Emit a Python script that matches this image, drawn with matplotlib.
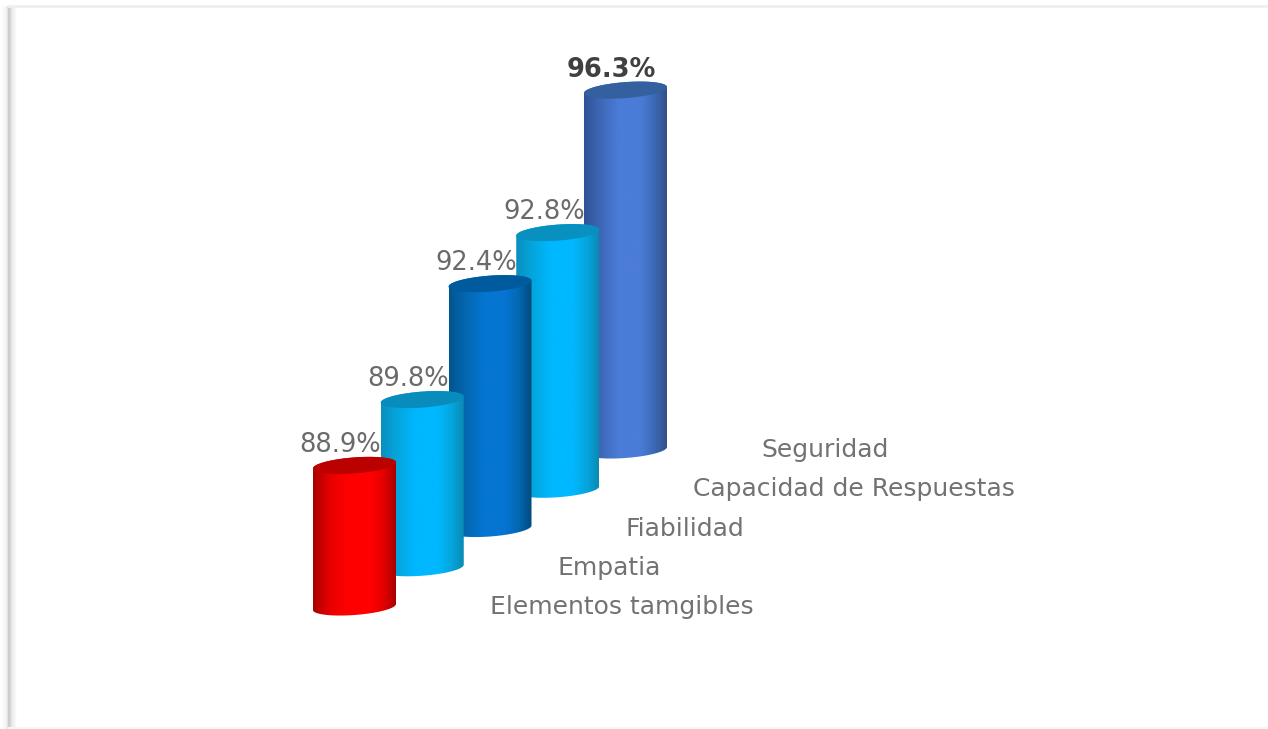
import numpy as np
import matplotlib
matplotlib.use("Agg")
import matplotlib.pyplot as plt
from matplotlib.colors import LinearSegmentedColormap
from matplotlib.patches import PathPatch, Polygon
from matplotlib.path import Path

categories = ["Elementos tamgibles", "Empatia", "Fiabilidad", "Capacidad de Respuestas", "Seguridad"]
values = [88.9, 89.8, 92.4, 92.8, 96.3]
value_labels = ["88.9%", "89.8%", "92.4%", "92.8%", "96.3%"]

edge_dark = ["#a80000", "#0a8fbe", "#00568f", "#0a8fbe", "#2f5396"]
edge_mid = ["#e60000", "#04a6dd", "#0467b0", "#04a6dd", "#3d68b6"]
centre = ["#ff0000", "#00b8ff", "#0575d2", "#00b8ff", "#4a7cd8"]
edge_right = ["#a80000", "#0a8ab5", "#004a7c", "#0a8ab5", "#31508c"]
lid = ["#bb0000", "#088cbc", "#005a9e", "#0890c0", "#34609f"]

W, H = 1268, 729
PX_PER_UNIT = 29.5
BASE_VALUE = 84.1
DEPTH_UNITS = 39.25 / PX_PER_UNIT
X0, X_STEP = 354.5, 67.75
HALF_W, LID_H, TILT = 41.5, 8.0, 3.0
BASE_PX = 607.0

fig = plt.figure(figsize=(W / 100, H / 100), dpi=100, facecolor="white")
ax = fig.add_axes([0, 0, 1, 1])
y_low = BASE_VALUE - (H - BASE_PX) / PX_PER_UNIT
y_high = y_low + H / PX_PER_UNIT


def px(dy):
    return dy / PX_PER_UNIT


def arc(cx, cy, t):
    return np.column_stack([cx + HALF_W * np.cos(t),
                            cy + px(LID_H * np.sin(t) + TILT * np.cos(t))])


order = range(len(values) - 1, -1, -1)
for i in order:
    cx = X0 + i * X_STEP
    base = BASE_VALUE + i * DEPTH_UNITS
    top = values[i] + i * DEPTH_UNITS
    upper = arc(cx, top, np.linspace(0, np.pi, 50))
    lower = arc(cx, base, np.linspace(np.pi, 2 * np.pi, 50))
    body = np.vstack([upper, lower, upper[:1]])
    cmap = LinearSegmentedColormap.from_list(
        f"c{i}",
        [(0, edge_dark[i]), (0.2, edge_mid[i]), (0.42, centre[i]),
         (0.68, centre[i]), (0.85, edge_mid[i]), (1, edge_right[i])])
    im = ax.imshow(np.linspace(0, 1, 256)[None, :], cmap=cmap, aspect="auto",
                   extent=(cx - HALF_W, cx + HALF_W, base - px(12), top + px(12)),
                   zorder=2 + (len(values) - i) * 2, interpolation="bilinear")
    clip = PathPatch(Path(body), transform=ax.transData, facecolor="none", edgecolor="none")
    ax.add_patch(clip)
    im.set_clip_path(clip)
    ax.add_patch(Polygon(arc(cx, top, np.linspace(0, 2 * np.pi, 90)), closed=True,
                         facecolor=lid[i], edgecolor="none",
                         zorder=3 + (len(values) - i) * 2))

    ax.annotate(value_labels[i], (cx, top), xytext=(-14 * 0.72, 20.5 * 0.72),
                textcoords="offset points", ha="center", va="center",
                fontsize=18.5 if i < 4 else 18.5,
                fontweight="normal" if i < 4 else "bold",
                color="#6a6a6a" if i < 4 else "#404040", zorder=30)
    ax.text(cx + 135.5, base, categories[i], ha="left", va="center",
            fontsize=18, color="#727272", zorder=30)

# soft frame of the picture
shadow = LinearSegmentedColormap.from_list("s", [(0, "#ffffff"), (0.35, "#f3f3f3"), (0.5, "#c4c4c4"), (0.65, "#e6e6e6"), (1, "#ffffff")])
ax.imshow(np.linspace(0, 1, 64)[None, :], cmap=shadow, aspect="auto",
          extent=(1, 17, y_low, y_high - px(6)), zorder=1)
ax.plot([9, W], [y_high - px(6)] * 2, color="#efefef", lw=2, zorder=1)
ax.plot([9, W], [y_low + px(1)] * 2, color="#f6f6f6", lw=1.5, zorder=1)

ax.set_xlim(0, W)
ax.set_ylim(y_low, y_high)
ax.axis("off")
fig.savefig("out.png", dpi=100, facecolor="white")
